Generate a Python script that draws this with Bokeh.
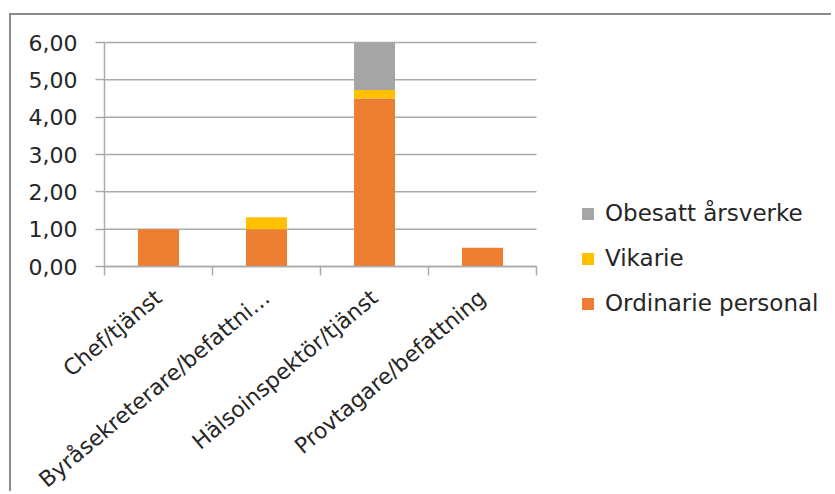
import numpy as np
from math import pi
from bokeh.plotting import figure
from bokeh.models import Range1d, FixedTicker, Legend, LegendItem, ColumnDataSource
from bokeh.embed import file_html
from bokeh.resources import INLINE

categories = ["Chef/tjänst", "Byråsekreterare/befattni…", "Hälsoinspektör/tjänst", "Provtagare/befattning"]
ordinarie = [1.00, 1.00, 4.50, 0.50]
vikarie = [0.00, 0.32, 0.23, 0.00]
obesatt = [0.00, 0.00, 1.27, 0.00]
series_names = ["Ordinarie personal", "Vikarie", "Obesatt årsverke"]
series_colors = ["#ED7D31", "#FFC000", "#A5A5A5"]
y_ticks = [0, 1, 2, 3, 4, 5, 6]
y_tick_labels = ["0,00", "1,00", "2,00", "3,00", "4,00", "5,00", "6,00"]

FONT = "DejaVu Sans"
TXT = "#262626"
GRID = "#ABABAB"

# layout geometry (pixels)
W, H = 822, 478
LEFT, TOP = 93, 27                 # position of the visible chart area in the canvas
PLOT_W, PLOT_H = 432, 224          # size of the visible chart area
n = len(categories)
y_max = max(y_ticks)
px_x = PLOT_W / n
px_y = PLOT_H / y_max
x_start = -LEFT / px_x
x_end = (W - LEFT) / px_x
y_end = y_max + TOP / px_y
y_start = y_max - (H - TOP) / px_y

p = figure(width=W, height=H, output_backend="svg", toolbar_location=None,
           x_range=Range1d(x_start, x_end), y_range=Range1d(y_start, y_end),
           min_border=0, margin=(13, 0, 0, 9),
           styles={"border-top": "2px solid #8C8C8C", "border-left": "2px solid #8C8C8C"})
p.outline_line_color = None
p.background_fill_color = "white"
p.border_fill_color = "white"
p.xgrid.grid_line_color = None
p.ygrid.grid_line_color = None

# horizontal gridlines limited to the category span
p.segment(x0=[0] * len(y_ticks), x1=[n] * len(y_ticks), y0=y_ticks, y1=y_ticks,
          line_color=GRID, line_width=1.5)

x = np.arange(n) + 0.5
data = [np.array(ordinarie), np.array(vikarie), np.array(obesatt)]
bottom = np.zeros(n)
renderers = []
for vals, name, col in zip(data, series_names, series_colors):
    src = ColumnDataSource(dict(x=x, bottom=bottom.copy(), top=bottom + vals))
    r = p.vbar(x="x", bottom="bottom", top="top", width=0.38, source=src,
               fill_color=col, line_color=None)
    renderers.append((name, r))
    bottom = bottom + vals

# x axis fixed at y = 0
xa = p.xaxis[0]
xa.fixed_location = 0
xa.bounds = (0, n)
xa.ticker = FixedTicker(ticks=list(x), minor_ticks=list(range(n + 1)))
xa.major_label_overrides = {float(xi): c for xi, c in zip(x, categories)}
xa.major_tick_line_color = None
xa.minor_tick_line_color = GRID
xa.minor_tick_line_width = 1.5
xa.minor_tick_in = 0
xa.minor_tick_out = 9
xa.axis_line_color = GRID
xa.axis_line_width = 1.5
xa.major_label_orientation = 40 * pi / 180
xa.major_label_text_font = FONT
xa.major_label_text_font_size = "22px"
xa.major_label_text_color = TXT
xa.major_label_standoff = 19

# y axis fixed at x = 0
ya = p.yaxis[0]
ya.fixed_location = 0
ya.bounds = (0, y_max)
ya.ticker = FixedTicker(ticks=y_ticks, minor_ticks=[])
ya.major_label_overrides = {t: l for t, l in zip(y_ticks, y_tick_labels)}
ya.major_tick_line_color = GRID
ya.major_tick_line_width = 1.5
ya.major_tick_in = 0
ya.major_tick_out = 9
ya.axis_line_color = GRID
ya.axis_line_width = 1.5
ya.major_label_text_font = FONT
ya.major_label_text_font_size = "22px"
ya.major_label_text_color = TXT
ya.major_label_standoff = 18

legend = Legend(items=[LegendItem(label=nm, renderers=[r]) for nm, r in reversed(renderers)],
                location=(LEFT + 476, 177), border_line_color=None, background_fill_alpha=0,
                glyph_width=15, glyph_height=15, label_standoff=10, spacing=19, padding=0,
                margin=0, label_text_font=FONT, label_text_font_size="23px",
                label_text_color=TXT)
p.add_layout(legend, "center")

open("out.html", "w").write(file_html(p, INLINE))
